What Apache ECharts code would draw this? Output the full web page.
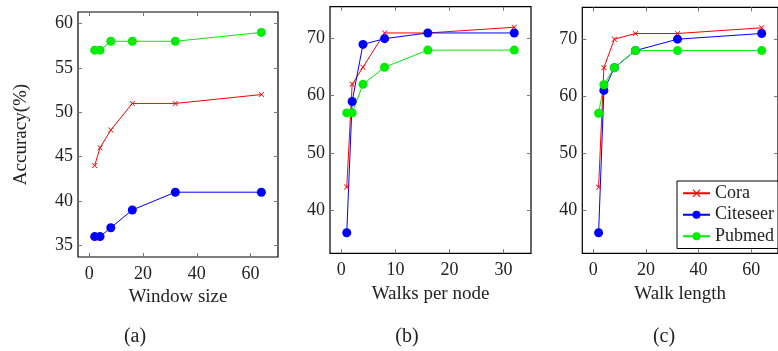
<!DOCTYPE html>
<html>
<head>
<meta charset="utf-8">
<script src="https://cdn.jsdelivr.net/npm/echarts@6/dist/echarts.min.js"></script>
<style>
html,body{margin:0;padding:0;background:#fff;}
#chart{width:778px;height:351px;}
</style>
</head>
<body>
<div id="chart"></div>
<script>
// ---- data ----
var seriesNames = ['Cora', 'Citeseer', 'Pubmed'];

var windowSize = [2, 4, 8, 16, 32, 64];
var windowCora = [44, 46, 48, 51, 51, 52];
var windowCiteseer = [36, 36, 37, 39, 41, 41];
var windowPubmed = [57, 57, 58, 58, 58, 59];

var walksPerNode = [1, 2, 4, 8, 16, 32];
var walksCora = [44, 62, 65, 71, 71, 72];
var walksCiteseer = [36, 59, 69, 70, 71, 71];
var walksPubmed = [57, 57, 62, 65, 68, 68];

var walkLength = [2, 4, 8, 16, 32, 64];
var lengthCora = [44, 65, 70, 71, 71, 72];
var lengthCiteseer = [36, 61, 65, 68, 70, 71];
var lengthPubmed = [57, 62, 65, 68, 68, 68];

var xTicksA = [0, 20, 40, 60];
var yTicksA = [35, 40, 45, 50, 55, 60];
var xTicksB = [0, 10, 20, 30];
var yTicksB = [40, 50, 60, 70];
var xTicksC = [0, 20, 40, 60];
var yTicksC = [40, 50, 60, 70];

var xLabels = ['Window size', 'Walks per node', 'Walk length'];
var yLabel = 'Accuracy(%)';
var captions = ['(a)', '(b)', '(c)'];

// ---- styling ----
var FONT = '"Liberation Serif", "DejaVu Serif", serif';
var colors = { Cora: '#ff0000', Citeseer: '#0000ff', Pubmed: '#00ee00' };
var crossPath = 'path://M0,1L1,0L5,4L9,0L10,1L6,5L10,9L9,10L5,6L1,10L0,9L4,5Z';

function zip(xs, ys) { return xs.map(function (x, i) { return [x, ys[i]]; }); }

var grids = [
  { left: 78, top: 12, width: 200, height: 245 },
  { left: 330, top: 6.7, width: 201, height: 246.6 },
  { left: 582.3, top: 7.3, width: 201, height: 246 }
];
var xRanges = [[-4.2, 70.2], [-2.1, 35.1], [-4.2, 70.2]];
var yRanges = [[33.7, 61.3], [32.4, 75.6], [32.4, 75.6]];
var xTicks = [xTicksA, xTicksB, xTicksC];
var yTicks = [yTicksA, yTicksB, yTicksC];
var captionX = [135, 407, 664];

var tickStyle = { color: '#777', width: 1 };
var xAxes = [], yAxes = [];
grids.forEach(function (g, i) {
  g.show = true; g.borderColor = '#000'; g.borderWidth = 1.2; g.backgroundColor = 'transparent';
  xAxes.push({
    type: 'value', gridIndex: i, position: 'bottom', min: xRanges[i][0], max: xRanges[i][1],
    axisLine: { show: false, onZero: false }, splitLine: { show: false },
    axisTick: { inside: true, length: 4, lineStyle: tickStyle, customValues: xTicks[i] },
    axisLabel: { customValues: xTicks[i], margin: 8, fontFamily: FONT, fontSize: 18, color: '#222' },
    name: xLabels[i], nameLocation: 'middle', nameGap: 28,
    nameTextStyle: { fontFamily: FONT, fontSize: 19, color: '#222' }
  });
  xAxes.push({
    type: 'value', gridIndex: i, position: 'top', min: xRanges[i][0], max: xRanges[i][1],
    axisLine: { show: false, onZero: false }, splitLine: { show: false },
    axisTick: { inside: true, length: 4, lineStyle: tickStyle, customValues: xTicks[i] },
    axisLabel: { show: false }
  });
  var yl = {
    type: 'value', gridIndex: i, position: 'left', min: yRanges[i][0], max: yRanges[i][1],
    axisLine: { show: false, onZero: false }, splitLine: { show: false },
    axisTick: { inside: true, length: 4, lineStyle: tickStyle, customValues: yTicks[i] },
    axisLabel: { customValues: yTicks[i], margin: 5, fontFamily: FONT, fontSize: 18, color: '#222' }
  };
  if (i === 0) {
    yl.name = yLabel; yl.nameLocation = 'middle'; yl.nameGap = 47;
    yl.nameTextStyle = { fontFamily: FONT, fontSize: 19, color: '#222' };
  }
  yAxes.push(yl);
  yAxes.push({
    type: 'value', gridIndex: i, position: 'right', min: yRanges[i][0], max: yRanges[i][1],
    axisLine: { show: false, onZero: false }, splitLine: { show: false },
    axisTick: { inside: true, length: 4, lineStyle: tickStyle, customValues: yTicks[i] },
    axisLabel: { show: false }
  });
});

var panelData = [
  { x: windowSize, Cora: windowCora, Citeseer: windowCiteseer, Pubmed: windowPubmed },
  { x: walksPerNode, Cora: walksCora, Citeseer: walksCiteseer, Pubmed: walksPubmed },
  { x: walkLength, Cora: lengthCora, Citeseer: lengthCiteseer, Pubmed: lengthPubmed }
];

var series = [];
panelData.forEach(function (p, i) {
  seriesNames.forEach(function (name) {
    var isCross = name === 'Cora';
    series.push({
      name: name, type: 'line', xAxisIndex: i * 2, yAxisIndex: i * 2,
      data: zip(p.x, p[name]),
      symbol: isCross ? crossPath : 'circle',
      symbolSize: isCross ? 5.5 : 9,
      showAllSymbol: true,
      lineStyle: { color: colors[name], width: 1 },
      itemStyle: { color: colors[name], borderWidth: 0 },
      emphasis: { disabled: true }
    });
  });
});

var graphics = captions.map(function (c, i) {
  return { type: 'text', x: captionX[i], y: 337,
    style: { text: c, font: '20px ' + FONT, fill: '#222', textAlign: 'center', textVerticalAlign: 'middle' } };
});

var chart = echarts.init(document.getElementById('chart'), null, { renderer: 'canvas' });
chart.setOption({
  animation: false,
  backgroundColor: '#fff',
  grid: grids,
  xAxis: xAxes,
  yAxis: yAxes,
  series: series,
  legend: {
    data: seriesNames, orient: 'vertical', left: 677, top: 181,
    padding: [3, 4, 3, 5], itemGap: 3, itemWidth: 27, itemHeight: 10,
    backgroundColor: '#fff', borderColor: '#000', borderWidth: 1, borderRadius: 0,
    textStyle: { fontFamily: FONT, fontSize: 18, color: '#222', lineHeight: 18.5 },
    selectedMode: false
  },
  graphic: graphics
});
</script>
</body>
</html>
